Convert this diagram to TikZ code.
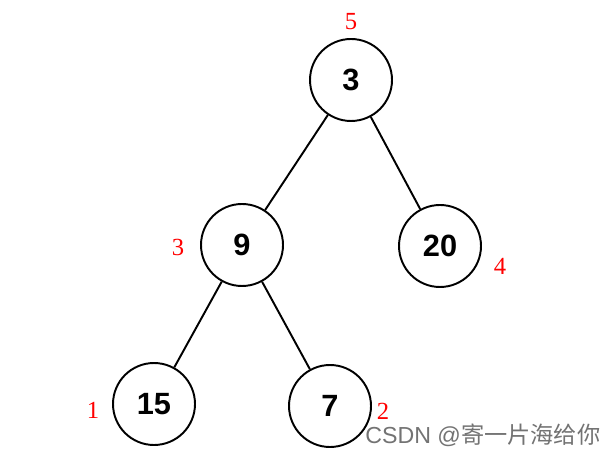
\documentclass[tikz,border=0pt]{standalone}
\usepackage{fontspec}
\setmainfont{Liberation Serif}
\newfontfamily\arialfont{Liberation Sans}
\newfontfamily\cjkfont{Noto Sans CJK SC}
\usepackage{xcolor}
\usetikzlibrary{positioning}

\begin{document}
\begin{tikzpicture}[x=0.02cm,y=-0.02cm,
  vert/.style={draw,circle,line width=1.1pt,minimum size=1.64cm,inner sep=0pt,
               font=\arialfont\bfseries\fontsize{17.5}{17.5}\selectfont},
  idx/.style={text=red,font=\fontsize{14}{14}\selectfont,inner sep=0pt},
  edge/.style={line width=1.1pt}]
\useasboundingbox (0,0) rectangle (614,455);
% tree
\node[vert] (n3)  at (351,80)  {3};
\node[vert] (n9)  at (242,245) {9};
\node[vert] (n20) at (440,246) {20};
\node[vert] (n15) at (154,404) {15};
\node[vert] (n7)  at (330,406) {7};
\foreach \u/\v in {n3/n9,n3/n20,n9/n15,n9/n7}
  \draw[edge] (\u) -- (\v);
% heap order labels
\node[idx] (i5) at (351,22)  {5};
\node[idx] (i3) at (178,247) {3};
\node[idx] (i4) at (500,266) {4};
\node[idx] (i1) at (93,410)  {1};
\node[idx] (i2) at (383,411) {2};
% watermark
\node[anchor=west,inner sep=0pt,text=black!55,font=\arialfont\fontsize{13.2}{13.2}\selectfont]
  (wm) at (365,435) {CSDN @{\cjkfont 寄一片海给你}};
\end{tikzpicture}
\end{document}
